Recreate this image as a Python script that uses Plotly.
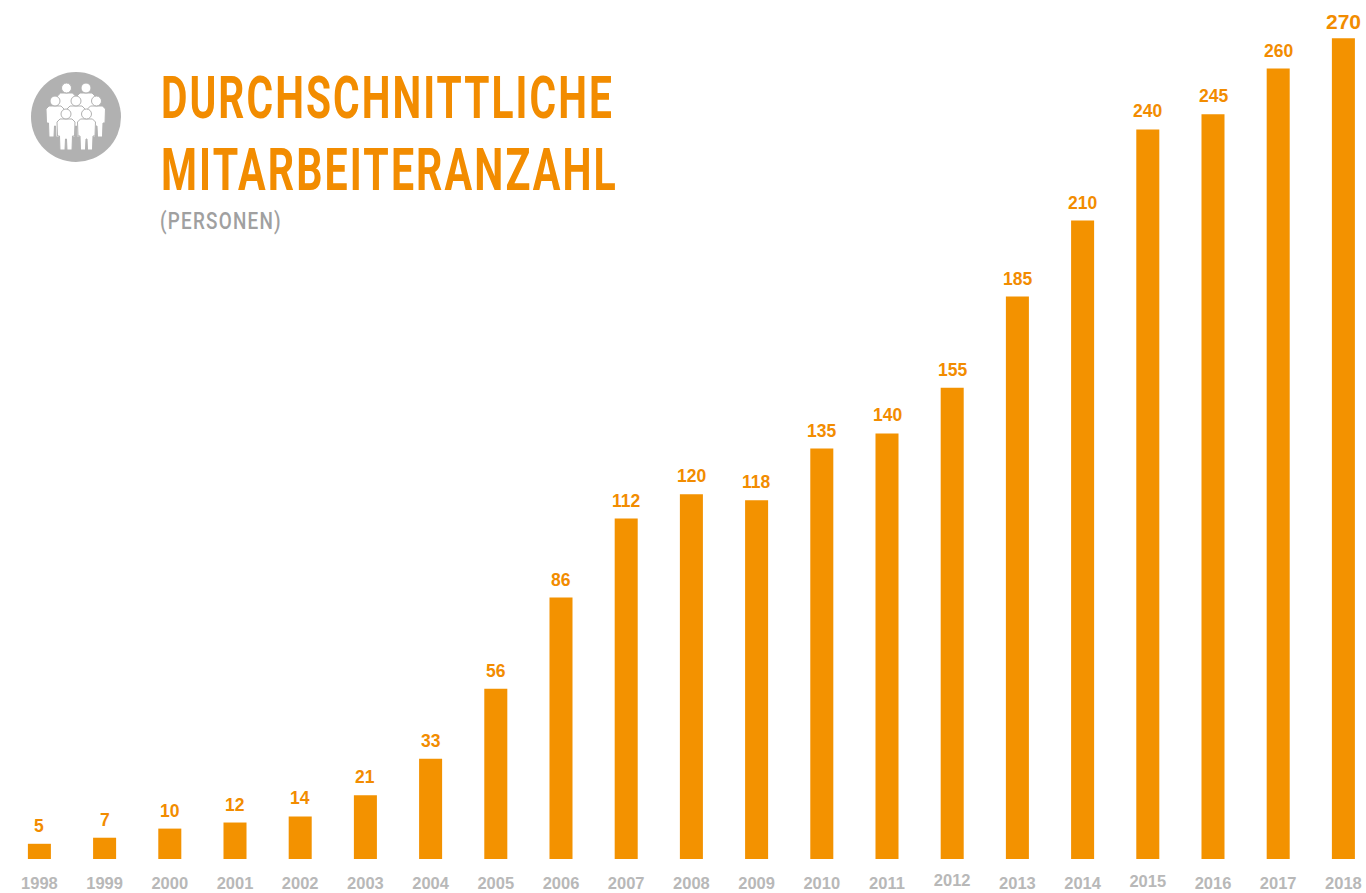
import plotly.graph_objects as go

years = list(range(1998, 2019))
staff = [5, 7, 10, 12, 14, 21, 33, 56, 86, 112, 120, 118, 135, 140, 155, 185, 210, 240, 245, 260, 270]
title_lines = ["DURCHSCHNITTLICHE", "MITARBEITERANZAHL"]
subtitle = "(PERSONEN)"

ORANGE = "#F39200"
TXT_ORANGE = "#F28C00"
GREY = "#B8B8B8"
W, H, BASE = 1366, 893, 859

def px(x): return x / W
def py(y): return (BASE - y) / BASE

fig = go.Figure(go.Bar(
    x=years, y=staff, width=0.353, marker=dict(color=ORANGE, line_width=0), hoverinfo="x+y",
))

shapes = [dict(type="circle", xref="paper", yref="paper", x0=px(31), x1=px(121), y0=py(162), y1=py(72),
               fillcolor="#B1B1B1", line_width=0, layer="below")]

def person(cx, cy):
    pts = [("M", -6, 5), ("L", 6, 5), ("L", 9, 8), ("L", 8.5, 22), ("L", 6.5, 22), ("L", 6, 36), ("L", 1, 36),
           ("L", 0.5, 25), ("L", -0.5, 25), ("L", -1, 36), ("L", -6, 36), ("L", -6.5, 22), ("L", -8.5, 22), ("L", -9, 8)]
    path = " ".join(f"{c} {px(cx + a):.5f} {py(cy + b):.5f}" for c, a, b in pts) + " Z"
    return [
        dict(type="path", xref="paper", yref="paper", path=path, fillcolor="white",
             line=dict(color="#B1B1B1", width=1), layer="above"),
        dict(type="circle", xref="paper", yref="paper", x0=px(cx - 5), x1=px(cx + 5), y0=py(cy + 5), y1=py(cy - 5),
             fillcolor="white", line=dict(color="#B1B1B1", width=1), layer="above"),
    ]

for c in [(66.5, 88), (86, 88), (55, 101), (96.5, 101), (76, 101), (66, 114), (86.5, 114)]:
    shapes += person(*c)

annotations = [
    dict(text=title_lines[0], x=px(159), y=py(97), xref="paper", yref="paper", xanchor="left", yanchor="middle",
         showarrow=False, font=dict(family="Roboto", size=59, color=TXT_ORANGE, weight="bold")),
    dict(text=title_lines[1], x=px(159), y=py(169), xref="paper", yref="paper", xanchor="left", yanchor="middle",
         showarrow=False, font=dict(family="Roboto", size=59, color=TXT_ORANGE, weight="bold")),
    dict(text=subtitle, x=px(158), y=py(222), xref="paper", yref="paper", xanchor="left", yanchor="middle",
         showarrow=False, font=dict(family="Roboto", size=23, color="#A0A0A0", weight=500)),
]
for yr, v in zip(years, staff):
    annotations.append(dict(
        x=yr, y=v, text=str(v), xref="x", yref="y", xanchor="center", yanchor="bottom",
        yshift=3 if yr == 2018 else 6, showarrow=False,
        font=dict(family="Liberation Sans", size=21 if yr == 2018 else 17.5, color=TXT_ORANGE, weight="bold")))

fig.update_layout(
    width=W, height=H, margin=dict(l=0, r=0, t=0, b=H - BASE, pad=0, autoexpand=False),
    paper_bgcolor="white", plot_bgcolor="white", showlegend=False,
    shapes=shapes, annotations=annotations,
    xaxis=dict(range=[1998 - 39.4 / 65.2, 1998 + 1326.6 / 65.2], tickvals=years, ticktext=[str(y) for y in years],
               ticks="outside", ticklen=9, tickcolor="rgba(0,0,0,0)", showgrid=False, zeroline=False, showline=False,
               tickfont=dict(family="Liberation Sans", size=16.5, color=GREY, weight="bold")),
    yaxis=dict(range=[0, BASE / 3.04], visible=False),
)

post = """
document.body.style.margin = '0';
var fit = {'DURCHSCHNITTLICHE': [453, 3], 'MITARBEITERANZAHL': [457, 3], '(PERSONEN)': [122, 1.5]};
document.querySelectorAll('.annotation-text').forEach(function (t) {
  var f = fit[t.textContent];
  if (!f) return;
  var left = t.getBBox().x;
  t.style.letterSpacing = f[1] + 'px';
  t.style.textAnchor = 'start';
  var bb = t.getBBox();
  t.setAttribute('transform', 'translate(' + left + ',0) scale(' + (f[0] / bb.width) + ',1) translate(' + (-bb.x) + ',0)');
});
var nudge = {'2012': 3, '2015': 2};
document.querySelectorAll('.xtick text').forEach(function (t) {
  var d = nudge[t.textContent];
  if (d) t.setAttribute('y', parseFloat(t.getAttribute('y')) - d);
});
"""
fig.write_html("out.html", config=dict(displayModeBar=False), post_script=post)
